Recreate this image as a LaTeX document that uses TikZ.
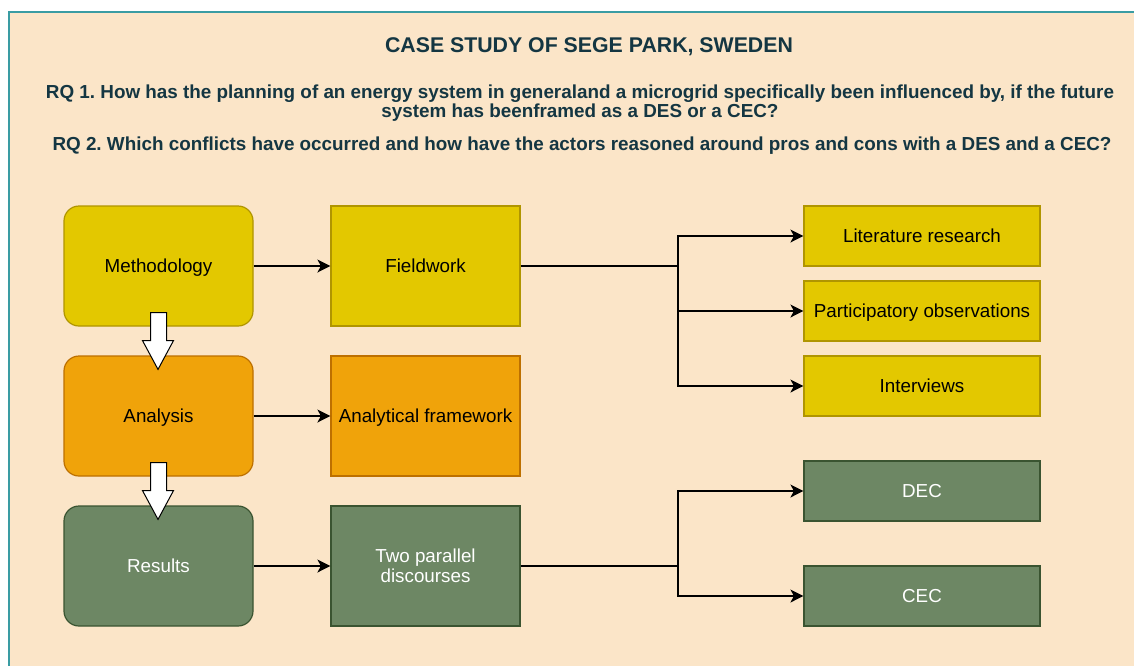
\documentclass[tikz,border=0pt]{standalone}
\usepackage{fontspec}
\setmainfont{Liberation Sans}
\usetikzlibrary{arrows.meta,calc}
\frenchspacing
\definecolor{bgc}{HTML}{FBE5C8}
\definecolor{framec}{HTML}{3A9CA3}
\definecolor{titlec}{HTML}{143642}
\definecolor{yelf}{HTML}{E3C800}
\definecolor{yeld}{HTML}{B09500}
\definecolor{orf}{HTML}{F0A30A}
\definecolor{ord}{HTML}{BD7000}
\definecolor{grf}{HTML}{6D8764}
\definecolor{grd}{HTML}{3A5431}
\tikzset{
  box/.style={minimum width=189pt,minimum height=120pt,inner sep=0pt,align=center,line width=1.2pt,font=\fontsize{18.8}{20.5}\selectfont},
  sl/.style={text depth=0pt},
  rbox/.style={box,sl,rounded corners=15pt},
  sbox/.style={box,sl,minimum width=236pt,minimum height=60pt},
  yel/.style={fill=yelf,draw=yeld,text=black},
  ora/.style={fill=orf,draw=ord,text=black},
  gre/.style={fill=grf,draw=grd,text=white},
  conn/.style={line width=1.4pt,-{Stealth[length=13pt,width=13pt,inset=3.5pt]}},
  line/.style={line width=1.4pt},
  blk/.style={fill=white,draw=black,line width=1pt,line join=miter},
  ttl/.style={text=titlec,font=\bfseries\fontsize{18.85}{19}\selectfont,align=center}
}
\begin{document}
\begin{tikzpicture}[x=1pt,y=-1pt]
\useasboundingbox (0,0) rectangle (1134,665);
\fill[white] (0,0) rectangle (1134,665);
\filldraw[fill=bgc,draw=framec,line width=2pt] (8.5,11.5) rectangle (1145,680);
\node[ttl,font=\bfseries\fontsize{21.3}{24}\selectfont] (title) at (589,46.5) {CASE STUDY OF SEGE PARK, SWEDEN};
\node[ttl] (rq1) at (580,103) {RQ 1. How has the planning of an energy system in generaland a microgrid specifically been influenced by, if the future\\system has beenframed as a DES or a CEC?};
\node[ttl] (rq2) at (582,145.5) {RQ 2. Which conflicts have occurred and how have the actors reasoned around pros and cons with a DES and a CEC?};
% left column
\node[rbox,yel] (meth) at (158.5,266) {Methodology};
\node[rbox,ora] (ana) at (158.5,416) {Analysis};
\node[rbox,gre] (res) at (158.5,566) {Results};
% middle column
\node[box,sl,yel] (field) at (425.5,266) {Fieldwork};
\node[box,sl,ora] (afw) at (425.5,416) {Analytical framework};
\node[box,gre] (two) at (425.5,566) {Two parallel\\discourses};
% right column
\node[sbox,yel] (lit) at (922,236) {Literature research};
\node[sbox,yel] (part) at (922,311) {Participatory observations};
\node[sbox,yel] (int) at (922,386) {Interviews};
\node[sbox,gre] (dec) at (922,491) {DEC};
\node[sbox,gre] (cec) at (922,596) {CEC};
% connectors
\draw[conn] (meth.east) -- (field.west);
\draw[conn] (ana.east) -- (afw.west);
\draw[conn] (res.east) -- (two.west);
\coordinate (j1) at (678,266);
\coordinate (j2) at (678,566);
\draw[line] (field.east) -- (j1);
\draw[conn] (j1) |- (lit.west);
\draw[conn] (j1) |- (part.west);
\draw[conn] (j1) |- (int.west);
\draw[line] (two.east) -- (j2);
\draw[conn] (j2) |- (dec.west);
\draw[conn] (j2) |- (cec.west);
% block arrows
\draw[blk] ($(meth.south)+(-8,-14)$) -- ++(0,28) -- ++(-8,0) -- ($(ana.north)+(-0.5,14)$) -- ($(meth.south)+(15,14)$) -- ++(-7,0) -- ++(0,-28) -- cycle;
\draw[blk] ($(ana.south)+(-8,-14)$) -- ++(0,28) -- ++(-8,0) -- ($(res.north)+(-0.5,14)$) -- ($(ana.south)+(15,14)$) -- ++(-7,0) -- ++(0,-28) -- cycle;
\end{tikzpicture}
\end{document}
